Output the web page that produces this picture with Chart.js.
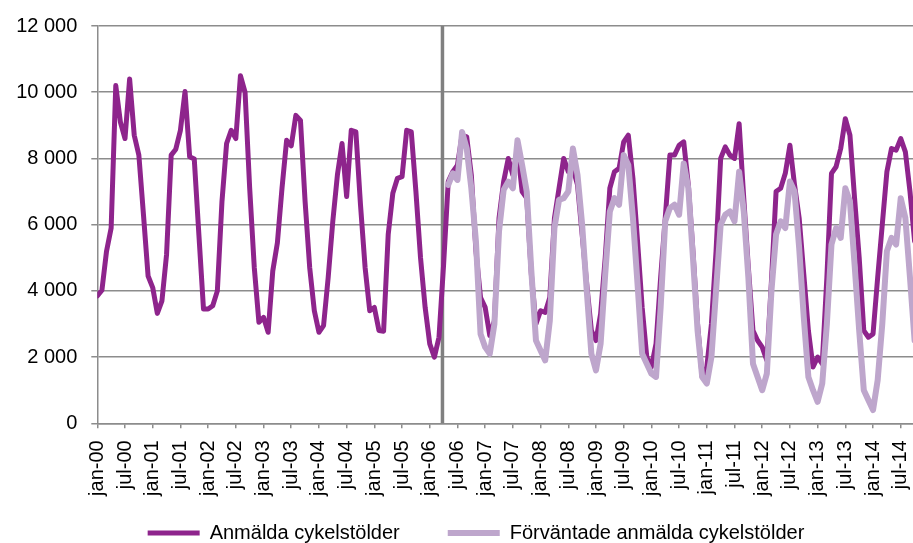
<!DOCTYPE html>
<html>
<head>
<meta charset="utf-8">
<script src="https://cdn.jsdelivr.net/npm/chart.js@4.4.1/dist/chart.umd.min.js"></script>
<style>
  html, body { margin: 0; padding: 0; overflow: hidden; background: #fff; }
  #wrap { position: relative; width: 952px; height: 553px; }
</style>
</head>
<body>
<div id="wrap"><canvas id="chart"></canvas></div>
<script>
/* global document, Chart */

// Axis labels (one every six months, jan-00 .. jul-14)
const tickLabels = [
  "jan-00", "jul-00", "jan-01", "jul-01", "jan-02", "jul-02", "jan-03", "jul-03",
  "jan-04", "jul-04", "jan-05", "jul-05", "jan-06", "jul-06", "jan-07", "jul-07",
  "jan-08", "jul-08", "jan-09", "jul-09", "jan-10", "jul-10", "jan-11", "jul-11",
  "jan-12", "jul-12", "jan-13", "jul-13", "jan-14", "jul-14"
];

// Reported bicycle thefts per month, jan-00 onwards
const reported = [
  3850, 4020, 5200, 5900, 10200, 9100, 8600, 10400, 8700, 8100, 6300, 4450,
  4100, 3320, 3700, 5100, 8100, 8280, 8850, 10020, 8050, 7980, 5700, 3450,
  3450, 3550, 4000, 6700, 8450, 8850, 8600, 10500, 10000, 7100, 4700, 3050,
  3200, 2750, 4600, 5450, 7100, 8550, 8380, 9300, 9150, 6700, 4700, 3400,
  2750, 2950, 4400, 6100, 7500, 8450, 6850, 8850, 8800, 6600, 4700, 3400,
  3500, 2800, 2780, 5700, 6950, 7400, 7450, 8850, 8800, 7000, 5000, 3500,
  2400, 2000, 2600, 4800, 7300, 7600, 7800, 8700, 8650, 7500, 5200, 3800,
  3500, 2650, 3100, 6200, 7300, 8000, 7500, 8300, 7000, 6800, 4500, 3000,
  3400, 3350, 3800, 6200, 7100, 8000, 7600, 7700, 7200, 5700, 4200, 2800,
  2500, 3300, 5000, 7100, 7600, 7700, 8500, 8700, 7400, 5500, 3500, 2000,
  1700, 2400, 4400, 6200, 8100, 8100, 8400, 8500, 7200, 5200, 3000, 1400,
  1700, 3000, 5200, 8000, 8350, 8100, 8000, 9050, 6800, 4700, 2800, 2500,
  2300, 1900, 4300, 7000, 7100, 7550, 8400, 7200, 6200, 4500, 2800, 1700,
  2000, 1800, 4400, 7550, 7750, 8300, 9200, 8700, 6800, 5000, 2800, 2600,
  2700, 4400, 6000, 7600, 8300, 8250, 8600, 8200, 7000, 5500
];

// Expected reported thefts, starts may-06 (month index 76)
const expectedStart = 76;
const expected = [
  7200, 7550, 7350, 8800, 8300, 7100, 5500, 2700,
  2300, 2100, 3000, 5800, 7050, 7300, 7100, 8550, 7800, 7000, 4600, 2500,
  2200, 1900, 3100, 5900, 6750, 6800, 7000, 8300, 7500, 6000, 4000, 2100,
  1600, 2400, 4500, 6400, 6800, 6600, 8100, 7800, 6200, 4200, 2100, 1800,
  1500, 1400, 3500, 6100, 6500, 6600, 6300, 7850, 7100, 5000, 2800, 1400,
  1200, 2000, 4000, 6000, 6300, 6400, 6100, 7600, 6400, 4400, 1800, 1400,
  1000, 1500, 4000, 5700, 6100, 5900, 7300, 7000, 5300, 3200, 1400, 1000,
  650, 1200, 3000, 5400, 5900, 5600, 7100, 6700, 4800, 2800, 1000, 700,
  400, 1300, 3000, 5200, 5600, 5400, 6800, 6200, 4400, 2500
];

// Month index where the vertical divider sits
const dividerAt = 74.75;

const darkPurple = "#8e248c";
const lightPurple = "#bea6cc";
const gridGray = "#8c8c8c";

Chart.defaults.font.family = "'Liberation Sans', Arial, sans-serif";
Chart.defaults.font.size = 20;
Chart.defaults.color = "#000";

const dividerLine = {
  id: "dividerLine",
  beforeDatasetsDraw(chart) {
    const {ctx, chartArea, scales} = chart;
    const x = scales.x.getPixelForValue(dividerAt);
    ctx.save();
    ctx.strokeStyle = "#808080";
    ctx.lineWidth = 3.5;
    ctx.beginPath();
    ctx.moveTo(x, chartArea.top);
    ctx.lineTo(x, chartArea.bottom);
    ctx.stroke();
    ctx.restore();
  }
};

new Chart(document.getElementById("chart"), {
  type: "line",
  data: {
    datasets: [
      {
        label: "Anmälda cykelstölder",
        data: reported.map((v, i) => ({x: i, y: v})),
        borderColor: darkPurple,
        backgroundColor: darkPurple,
        borderWidth: 5,
        borderCapStyle: "round",
        borderJoinStyle: "round",
        pointRadius: 0,
        tension: 0,
        order: 1
      },
      {
        label: "Förväntade anmälda cykelstölder",
        data: expected.map((v, i) => ({x: i + expectedStart, y: v})),
        borderColor: lightPurple,
        backgroundColor: lightPurple,
        borderWidth: 6,
        borderCapStyle: "round",
        borderJoinStyle: "round",
        pointRadius: 0,
        tension: 0,
        order: 0
      }
    ]
  },
  options: {
    responsive: true,
    maintainAspectRatio: false,
    animation: false,
    layout: {padding: {top: 23.3, left: 0, right: 0, bottom: 0}},
    plugins: {
      tooltip: {enabled: false},
      legend: {
        position: "bottom",
        // empty title with negative padding pulls the row up
        title: {display: true, text: "", font: {size: 1}, padding: {top: -25.2, bottom: 0}},
        labels: {
          usePointStyle: true,
          pointStyle: "line",
          pointStyleWidth: 52,
          padding: 48,
          font: {size: 20},
          sort: (a, b) => a.datasetIndex - b.datasetIndex
        }
      }
    },
    scales: {
      x: {
        type: "linear",
        min: 0,
        max: 185.1,
        afterFit: scale => {
          scale.height = 75.7;
          scale.paddingLeft = 0;
          scale.paddingRight = 0;
        },
        grid: {drawOnChartArea: false, color: gridGray, tickLength: 5, lineWidth: 1.5},
        border: {color: gridGray, width: 1.5},
        ticks: {
          stepSize: 6,
          includeBounds: false,
          autoSkip: false,
          minRotation: 90,
          maxRotation: 90,
          padding: 12,
          callback: value => tickLabels[value / 6]
        }
      },
      y: {
        min: 0,
        max: 12000,
        afterFit: scale => { scale.width = 97.3; },
        grid: {color: gridGray, tickLength: 6, lineWidth: 1.5},
        border: {color: gridGray, width: 1.5},
        ticks: {
          stepSize: 2000,
          padding: 14,
          callback: value => String(value).replace(/\B(?=(\d{3})+(?!\d))/g, " ")
        }
      }
    }
  },
  plugins: [dividerLine]
});
</script>
</body>
</html>
